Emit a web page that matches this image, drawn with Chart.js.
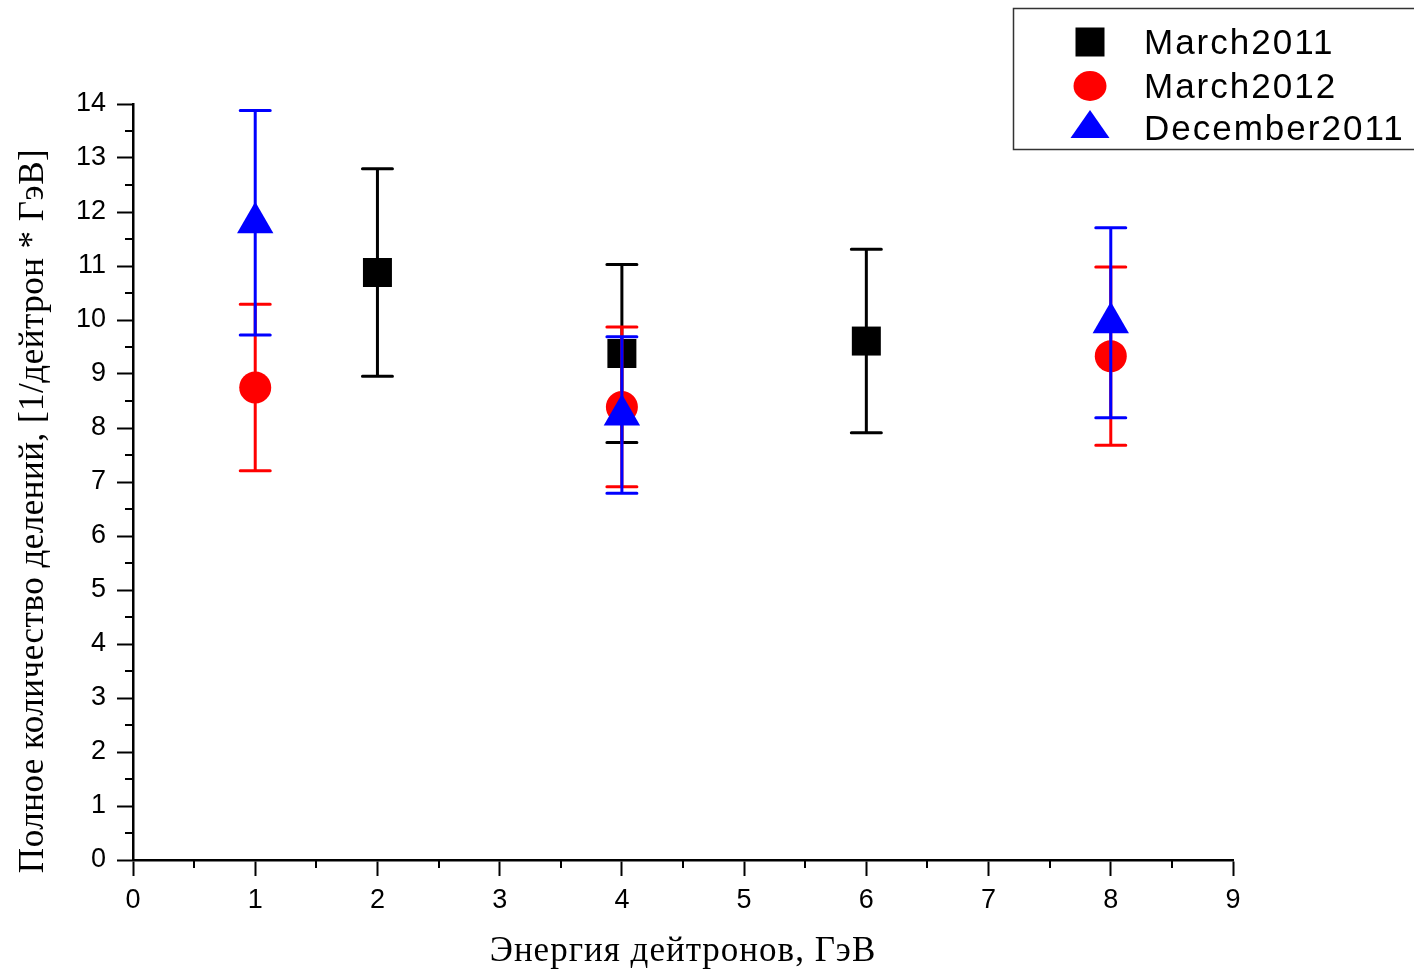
<!DOCTYPE html>
<html>
<head>
<meta charset="utf-8">
<script src="https://cdn.jsdelivr.net/npm/chart.js@4/dist/chart.umd.min.js"></script>
<style>
  html, body { margin: 0; padding: 0; background: #fff; }
  #wrap { width: 1414px; height: 973px; position: relative; }
</style>
</head>
<body>
<div id="wrap"><canvas id="c" width="1414" height="973"></canvas></div>
<script>
// ---- data ----
const seriesNames = ['March2011', 'March2012', 'December2011'];
const march2011X = [2, 4, 6];
const march2011Y = [10.88, 9.38, 9.61];
const march2011Err = [1.92, 1.65, 1.70];
const march2012X = [1, 4, 8];
const march2012Y = [8.75, 8.39, 9.33];
const march2012Err = [1.54, 1.48, 1.65];
const december2011X = [1, 4, 8];
const december2011Y = [11.80, 8.24, 9.95];
const december2011Err = [2.08, 1.45, 1.76];
const xTicks = [0, 1, 2, 3, 4, 5, 6, 7, 8, 9];
const yTicks = [0, 1, 2, 3, 4, 5, 6, 7, 8, 9, 10, 11, 12, 13, 14];
const xTitle = 'Энергия дейтронов, ГэВ';
const yTitle = 'Полное количество делений, [1/дейтрон * ГэВ]';

function pts(xs, ys, es) { return xs.map((x, i) => ({ x: x, y: ys[i], err: es[i] })); }

const colors = ['#000000', '#ff0000', '#0000ff'];
const styles = ['rect', 'circle', 'triangle'];

const errorBars = {
  id: 'errorBars',
  afterDatasetDraw(chart, args) {
    const ds = chart.data.datasets[args.index];
    const ctx = chart.ctx, xs = chart.scales.x, ys = chart.scales.y;
    ctx.save();
    ctx.strokeStyle = ds.borderColor;
    ctx.lineWidth = 3;
    ctx.lineCap = 'round';
    ds.data.forEach(p => {
      const px = xs.getPixelForValue(p.x);
      const top = ys.getPixelForValue(p.y + p.err);
      const bot = ys.getPixelForValue(p.y - p.err);
      ctx.beginPath();
      ctx.moveTo(px, top); ctx.lineTo(px, bot);
      ctx.moveTo(px - 15, top); ctx.lineTo(px + 15, top);
      ctx.moveTo(px - 15, bot); ctx.lineTo(px + 15, bot);
      ctx.stroke();
    });
    ctx.restore();
  }
};

function drawMarker(ctx, style, color, x, y) {
  ctx.fillStyle = color;
  ctx.beginPath();
  if (style === 'rect') {
    ctx.rect(x - 14.5, y - 14.5, 29, 29);
  } else if (style === 'circle') {
    ctx.ellipse(x, y, 16.5, 15, 0, 0, Math.PI * 2);
  } else {
    ctx.moveTo(x, y - 18); ctx.lineTo(x + 19.5, y + 10); ctx.lineTo(x - 19.5, y + 10); ctx.closePath();
  }
  ctx.fill();
}

const decor = {
  id: 'decor',
  afterDraw(chart) {
    const ctx = chart.ctx, xs = chart.scales.x, ys = chart.scales.y;
    const ca = chart.chartArea;
    ctx.save();
    // minor ticks
    ctx.strokeStyle = '#000'; ctx.lineWidth = 2;
    ctx.beginPath();
    for (let i = 0; i < xTicks.length - 1; i++) {
      const px = Math.round(xs.getPixelForValue(xTicks[i] + 0.5));
      ctx.moveTo(px, ca.bottom); ctx.lineTo(px, ca.bottom + 8);
    }
    for (let i = 0; i < yTicks.length - 1; i++) {
      const py = Math.round(ys.getPixelForValue(yTicks[i] + 0.5));
      ctx.moveTo(ca.left, py); ctx.lineTo(ca.left - 8, py);
    }
    ctx.stroke();
    // axis titles
    ctx.fillStyle = '#000';
    ctx.font = '35px "Liberation Serif", "DejaVu Serif", serif';
    ctx.textAlign = 'center'; ctx.textBaseline = 'alphabetic';
    try { ctx.letterSpacing = '1px'; } catch (e) {}
    ctx.fillText(xTitle, (ca.left + ca.right) / 2, 961);
    try { ctx.letterSpacing = '0.5px'; } catch (e) {}
    ctx.textBaseline = 'middle';
    ctx.translate(34, 511);
    ctx.rotate(-Math.PI / 2);
    ctx.fillText(yTitle, 0, 0);
    ctx.restore();

    // legend
    ctx.save();
    ctx.strokeStyle = '#333'; ctx.lineWidth = 1.5;
    ctx.strokeRect(1013.5, 8.5, 420, 141);
    ctx.font = '35px "Liberation Sans", Arial, sans-serif';
    ctx.textAlign = 'left'; ctx.textBaseline = 'alphabetic';
    try { ctx.letterSpacing = '2px'; } catch (e) {}
    const rowsY = [42, 86, 128];
    chart.data.datasets.forEach((ds, i) => {
      drawMarker(ctx, styles[i], colors[i], 1090, rowsY[i]);
      ctx.fillStyle = '#000';
      ctx.fillText(ds.label, 1144, rowsY[i] + 12);
    });
    ctx.restore();
  }
};

const tickFont = { family: '"Liberation Sans", Arial, sans-serif', size: 27 };

new Chart(document.getElementById('c'), {
  type: 'scatter',
  data: {
    datasets: [
      { label: seriesNames[0], data: pts(march2011X, march2011Y, march2011Err), order: 2,
        pointStyle: 'rect', pointRadius: 20.5, pointHoverRadius: 20.5, backgroundColor: colors[0], borderColor: colors[0], borderWidth: 0 },
      { label: seriesNames[1], data: pts(march2012X, march2012Y, march2012Err), order: 1,
        pointStyle: 'circle', pointRadius: 16, pointHoverRadius: 16, backgroundColor: colors[1], borderColor: colors[1], borderWidth: 0 },
      { label: seriesNames[2], data: pts(december2011X, december2011Y, december2011Err), order: 0,
        pointStyle: 'triangle', pointRadius: 21, pointHoverRadius: 21, backgroundColor: colors[2], borderColor: colors[2], borderWidth: 0 }
    ]
  },
  options: {
    responsive: false,
    animation: false,
    events: [],
    layout: { padding: { left: 0, top: 104, right: 181, bottom: 0 } },
    plugins: { legend: { display: false }, tooltip: { enabled: false } },
    scales: {
      x: {
        type: 'linear', min: 0, max: 9,
        afterBuildTicks: s => { s.ticks = xTicks.map(v => ({ value: v })); },
        afterFit: s => { s.height = 113; },
        grid: { display: true, drawOnChartArea: false, tickLength: 16, tickColor: '#000', tickWidth: 2 },
        border: { display: true, color: '#000', width: 2.5 },
        ticks: { color: '#000', font: tickFont, padding: 8, maxRotation: 0 }
      },
      y: {
        type: 'linear', min: 0, max: 14,
        afterBuildTicks: s => { s.ticks = yTicks.map(v => ({ value: v })); },
        afterFit: s => { s.width = 133; },
        grid: { display: true, drawOnChartArea: false, tickLength: 16, tickColor: '#000', tickWidth: 2 },
        border: { display: true, color: '#000', width: 2.5 },
        ticks: { color: '#000', font: tickFont, padding: 11 }
      }
    }
  },
  plugins: [errorBars, decor]
});
</script>
</body>
</html>
